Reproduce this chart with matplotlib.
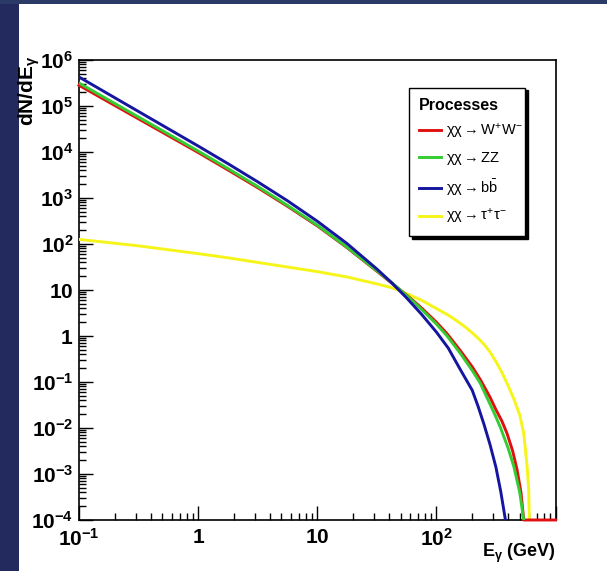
import matplotlib
matplotlib.use("Agg")
import matplotlib.pyplot as plt
from matplotlib.ticker import LogLocator, NullFormatter
from matplotlib.patches import Rectangle
import numpy as np

plt.rcParams['font.family'] = ['Liberation Sans', 'DejaVu Sans']
plt.rcParams['mathtext.fontset'] = 'custom'
plt.rcParams['mathtext.rm'] = 'Liberation Sans'
plt.rcParams['mathtext.it'] = 'Liberation Sans:italic'
plt.rcParams['mathtext.bf'] = 'Liberation Sans:bold'
plt.rcParams['mathtext.default'] = 'regular'
plt.rcParams['mathtext.fallback'] = 'stixsans'

# ---------------- DATA ----------------
e_bb = [0.1, 0.316, 1, 1.78, 3.16, 5.62, 10, 17.8, 31.6, 42.2, 56.2, 75.0, 100, 126, 158,
        200, 224, 251, 282, 316, 347, 380]
y_bb = [4.27e5, 7.59e4, 1.35e4, 5.58e3, 2.25e3, 871, 313, 102, 28.7, 14.3, 6.75, 2.97, 1.22,
        0.543, 0.191, 0.0661, 0.0295, 0.0120, 4.37e-3, 1.41e-3, 4.17e-4, 1e-4]

e_zz = [0.1, 0.316, 1, 1.78, 3.16, 5.62, 10, 17.8, 31.6, 42.2, 56.2, 64.6, 75.0, 100, 123,
        158, 200, 234, 282, 316, 345, 398, 447, 501, 541]
y_zz = [3.16e5, 5.75e4, 1.05e4, 4.37e3, 1.78e3, 692, 257, 85.1, 26.3, 14.5, 7.59, 5.50, 3.80,
        1.82, 1.0, 0.427, 0.178, 0.0933, 0.0331, 0.0174, 0.0102, 3.80e-3, 1.45e-3, 3.98e-4, 1e-4]

e_ww = [0.1, 0.316, 1, 1.78, 3.16, 5.62, 10, 17.8, 31.6, 42.2, 56.2, 64.6, 75.0, 100, 123,
        158, 200, 234, 282, 316, 355, 392, 437, 476, 513, 541, 1000]
y_ww = [2.82e5, 5.25e4, 9.77e3, 4.07e3, 1.68e3, 661, 248, 83.2, 25.7, 14.1, 7.76, 5.75, 4.07,
        2.0, 1.12, 0.490, 0.214, 0.112, 0.0468, 0.0251, 0.0141, 7.59e-3, 3.16e-3, 1.23e-3,
        3.98e-4, 1e-4, 1e-4]

e_tt = [0.1, 0.316, 1, 1.78, 3.16, 5.62, 10, 17.8, 31.6, 42.2, 51.5, 64.6, 75.0, 100, 112,
        126, 141, 158, 178, 200, 224, 251, 282, 316, 355, 398, 447, 501, 541, 578, 596, 603]
y_tt = [126, 91.2, 61.7, 50.1, 39.8, 31.6, 25.1, 19.2, 13.6, 11.2, 9.27, 7.11, 6.0, 3.95,
        3.36, 2.83, 2.34, 1.90, 1.51, 1.17, 0.896, 0.661, 0.449, 0.279, 0.161, 0.0861,
        0.0427, 0.0192, 7.67e-3, 1.45e-3, 4.47e-4, 1e-4]

x_ticks = [0.1, 1, 10, 100, 1000]
x_ticklabels = [r'$\mathbf{10^{-1}}$', r'$\mathbf{1}$', r'$\mathbf{10}$', r'$\mathbf{10^{2}}$', '']
y_ticks = [1e-4, 1e-3, 1e-2, 1e-1, 1, 10, 1e2, 1e3, 1e4, 1e5, 1e6]
y_ticklabels = [r'$\mathbf{10^{-4}}$', r'$\mathbf{10^{-3}}$', r'$\mathbf{10^{-2}}$', r'$\mathbf{10^{-1}}$',
                r'$\mathbf{1}$', r'$\mathbf{10}$', r'$\mathbf{10^{2}}$', r'$\mathbf{10^{3}}$',
                r'$\mathbf{10^{4}}$', r'$\mathbf{10^{5}}$', r'$\mathbf{10^{6}}$']

fig = plt.figure(figsize=(6.07, 5.71), dpi=100)
fig.patch.set_facecolor('white')

# slide background bits
fig.patches.append(Rectangle((0, 0), 19 / 607, 1, transform=fig.transFigure,
                             facecolor='#232a5e', edgecolor='none', zorder=-5))
fig.patches.append(Rectangle((0, 1 - 4 / 571), 1, 4 / 571, transform=fig.transFigure,
                             facecolor='#2b3a66', edgecolor='none', zorder=-5))

ax = fig.add_axes([79 / 607, 51 / 571, 476.5 / 607, 460 / 571])
ax.set_xscale('log')
ax.set_yscale('log')
ax.set_xlim(0.1, 1000)
ax.set_ylim(1e-4, 1e6)

lw = 2.1
ax.plot(e_tt, y_tt, color='#f5f51a', lw=lw, label=r'$\chi\chi\rightarrow\tau^{+}\tau^{-}$', zorder=3)
ax.plot(e_ww, y_ww, color='#e01010', lw=lw, label=r'$\chi\chi\rightarrow W^{+}W^{-}$', zorder=4, clip_on=False)
ax.plot(e_zz, y_zz, color='#33cc33', lw=lw, label=r'$\chi\chi\rightarrow ZZ$', zorder=5)
ax.plot(e_bb, y_bb, color='#1515a0', lw=lw, label=r'$\chi\chi\rightarrow b\bar{b}$', zorder=6)

# ---------------- AXES ----------------
ax.set_xticks(x_ticks)
ax.set_xticklabels(x_ticklabels)
ax.set_yticks(y_ticks)
ax.set_yticklabels(y_ticklabels)
ax.xaxis.set_minor_locator(LogLocator(base=10, subs=np.arange(2, 10), numticks=100))
ax.yaxis.set_minor_locator(LogLocator(base=10, subs=np.arange(2, 10), numticks=100))
ax.xaxis.set_minor_formatter(NullFormatter())
ax.yaxis.set_minor_formatter(NullFormatter())
ax.tick_params(which='both', direction='in', top=False, right=False, labelsize=15, width=1)
ax.tick_params(which='major', length=10, pad=6)
ax.tick_params(axis='y', which='major', pad=4)
ax.tick_params(which='minor', length=5)
for s in ax.spines.values():
    s.set_linewidth(1.2)

ax.text(-0.104, 1.01, r'$\mathbf{dN/dE_{\gamma}}$', transform=ax.transAxes, rotation=90,
        ha='center', va='top', fontsize=15)
ax.text(1.0, -0.073, r'$\mathbf{E_{\gamma}}$ (GeV)', transform=ax.transAxes,
        ha='right', va='center', fontsize=13, fontweight='bold')

# ---------------- LEGEND ----------------
h, l = ax.get_legend_handles_labels()
order = [1, 2, 3, 0]
leg = ax.legend([h[i] for i in order], [l[i] for i in order], title='Processes',
                loc='upper left', bbox_to_anchor=(0.6925, 0.94, 0.2435, 0.0), mode='expand',
                fontsize=10.5, title_fontproperties={'weight': 'bold', 'size': 11.5},
                alignment='left', frameon=True, fancybox=False, framealpha=1, edgecolor='black',
                shadow={'color': 'black', 'alpha': 1}, handlelength=1.5, handletextpad=0.35,
                labelspacing=0.65, borderpad=0.68, borderaxespad=0)
leg.get_frame().set_linewidth(1)

fig.savefig('out.png', dpi=100)
